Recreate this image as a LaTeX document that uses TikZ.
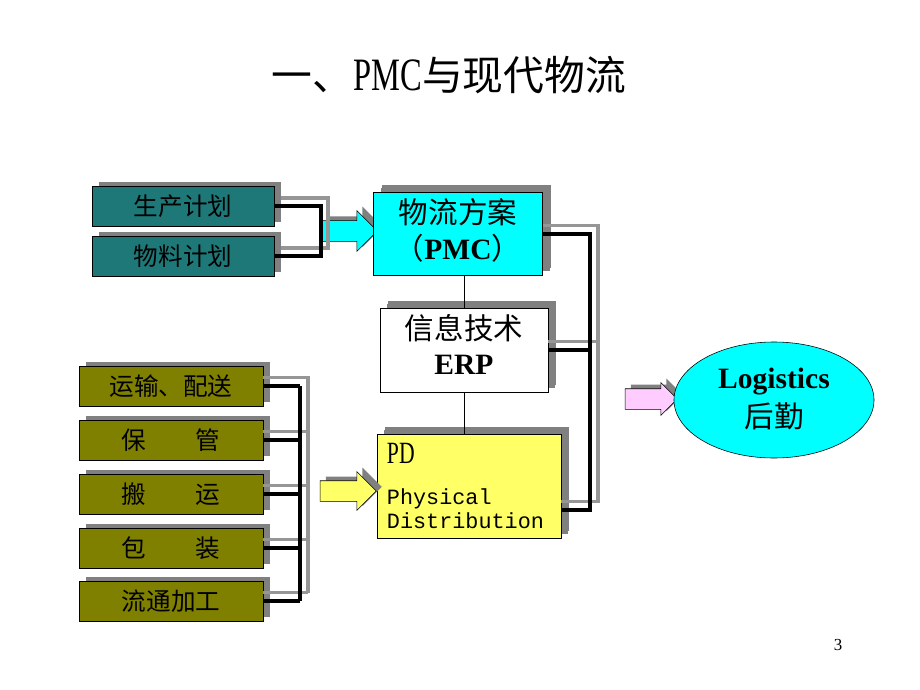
\documentclass[tikz,border=0pt]{standalone}
\usepackage{fontspec}
\setmainfont{Liberation Serif}
\setmonofont{Liberation Mono}
\newfontfamily\cjk{Noto Sans CJK SC}
\newfontfamily\condserif[FakeStretch=0.7]{Liberation Serif}
\usetikzlibrary{shapes.arrows,shapes.geometric,shadows,calc}
\definecolor{tealbox}{RGB}{31,120,120}
\definecolor{olivebox}{RGB}{128,128,0}
\definecolor{cyanbox}{RGB}{0,255,255}
\definecolor{yellowbox}{RGB}{255,255,102}
\definecolor{pinkbox}{RGB}{255,204,255}
\definecolor{shadowgray}{RGB}{128,128,128}
\definecolor{linegray}{RGB}{150,150,150}
\newcommand{\twoline}[2]{\begin{tabular}{@{}c@{}}#1\\#2\end{tabular}}
\newcommand{\latb}[1]{{\rmfamily\bfseries #1}}

\begin{document}
\begin{tikzpicture}[x=0.025cm,y=-0.025cm,
  box/.style={draw=black,thin,minimum height=1cm,inner sep=0pt,
              font=\cjk\fontsize{17.5}{20}\selectfont,
              drop shadow={shadow xshift=5pt,shadow yshift=3pt,fill=shadowgray,opacity=1}},
  plan/.style={box,fill=tealbox,minimum width=4.55cm},
  work/.style={box,fill=olivebox,minimum width=4.6cm},
  bigbox/.style={box,font=\cjk\fontsize{21}{25}\selectfont,
              drop shadow={shadow xshift=6pt,shadow yshift=5pt,fill=shadowgray,opacity=1}},
  blockarrow/.style={single arrow,draw=black,thin,inner xsep=0pt,inner ysep=0.25cm,
              minimum height=1.4cm,single arrow head extend=0.25cm,
              drop shadow={shadow xshift=4pt,shadow yshift=3pt,fill=shadowgray,opacity=1}},
  link/.style={line width=2.6pt,draw=black},
  linkshade/.style={line width=2.6pt,draw=linegray}]
  \fill[white] (0,0) rectangle (920,690);
  \useasboundingbox (0,0) rectangle (920,690);

  \node[font=\cjk\fontsize{29}{30}\selectfont] (title) at (449,75)
       {一、{\condserif\fontsize{33}{34}\selectfont PMC}与现代物流};

  % plans
  \node[plan] (plan1) at (183,206) {生产计划};
  \node[plan] (plan2) at (183,256) {物料计划};
  \node[blockarrow,fill=cyanbox] (arrA) at (344,231) {};

  % central column
  \node[bigbox,fill=cyanbox,minimum width=4.225cm,minimum height=2.075cm] (pmc) at (458,234)
       {\twoline{物流方案}{（\latb{PMC}）}};
  \node[bigbox,fill=white,minimum width=4.2cm,minimum height=2.1cm] (erp) at (464,350)
       {\twoline{信息技术}{\latb{ERP}}};
  \node[bigbox,fill=yellowbox,minimum width=4.6cm,minimum height=2.6cm,text width=4.1cm,
        align=left,font=\ttfamily\fontsize{15.5}{17}\selectfont] (pd) at (469,486)
       {{\condserif\fontsize{22}{22}\selectfont PD}\\[12pt]Physical\\Distribution};

  % operations
  \node[work] (op1) at (171,386) {运输、配送};
  \node[work] (op2) at (171,440) {保　　管};
  \node[work] (op3) at (171,494) {搬　　运};
  \node[work] (op4) at (171,548) {包　　装};
  \node[work] (op5) at (171,601) {流通加工};
  \node[blockarrow,fill=yellowbox,single arrow head extend=0.225cm] (arrB) at (343,491) {};

  % result
  \node[blockarrow,fill=pinkbox,minimum height=1.3cm,single arrow head extend=0.15cm] (arrC) at (646,399) {};
  \node[ellipse,draw=black,thin,fill=cyanbox,minimum width=5cm,minimum height=2.9cm,inner sep=0pt,
        font=\fontsize{21}{28}\selectfont] (logi) at (774,400)
       {\twoline{\bfseries Logistics}{\cjk 后勤}};

  \node[font=\fontsize{12}{14}\selectfont] (page) at (838,645) {3};

  \coordinate (busB) at (300,0);
  \coordinate (busBs) at (308,0);
  \coordinate (busC) at (590,0);
  \coordinate (busCs) at (598,0);
  \coordinate (pdlink) at ($(pd.east)!0.46!(pd.south east)$);
  % shade ends
  \coordinate (op1s) at ([yshift=6pt]op1.east);
  \coordinate (op2s) at ([yshift=6pt]op2.east);
  \coordinate (op3s) at ([yshift=6pt]op3.east);
  \coordinate (op4s) at ([yshift=6pt]op4.east);
  \coordinate (op5s) at ([yshift=6pt]op5.east);
  \coordinate (pmcs) at ([yshift=6pt]pmc.east);
  \coordinate (erps) at ([yshift=6pt]erp.east);
  \coordinate (pdlinks) at ([yshift=6pt]pdlink);

  % grey shade of the connectors
  \draw[linkshade] ([shift={(7,-8)}]plan1.east) -| ([shift={(7,-8)}]arrA.tail) |- ([shift={(7,-8)}]plan2.east);
  \draw[linkshade] (op1s) -| (busBs |- op5s);
  \draw[linkshade] (op2s) -- (op2s -| busBs);
  \draw[linkshade] (op3s) -- (op3s -| busBs);
  \draw[linkshade] (op4s) -- (op4s -| busBs);
  \draw[linkshade] (op5s) -- (op5s -| busBs);
  \draw[linkshade] (pmcs) -| (busCs |- pdlinks) -- (pdlinks);
  \draw[linkshade] (erps) -- (erps -| busCs);

  \draw[link] (plan1.east) -| (arrA.tail) |- (plan2.east);
  \draw[link] (op1.east -| busB) -- (op5.east -| busB);
  \draw[link] (op1.east) -- (op1.east -| busB);
  \draw[link] (op2.east) -- (op2.east -| busB);
  \draw[link] (op3.east) -- (op3.east -| busB);
  \draw[link] (op4.east) -- (op4.east -| busB);
  \draw[link] (op5.east) -- (op5.east -| busB);
  \draw[link] (pmc.east) -- (pmc.east -| busC) -- (busC |- pdlink) -- (pdlink);
  \draw[link] (erp.east) -- (erp.east -| busC);
  \draw (pmc.south -| erp.north) -- (erp.north);
  \draw (erp.south) -- (erp.south |- pd.north);
\end{tikzpicture}
\end{document}
